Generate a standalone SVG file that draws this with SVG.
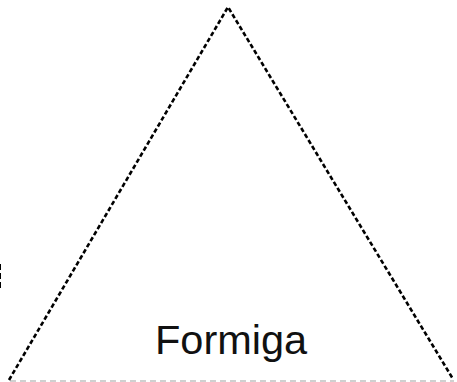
<svg xmlns="http://www.w3.org/2000/svg" width="457" height="382" viewBox="0 0 457 382">
<style>
.edge{fill:none;stroke:#000;stroke-width:2.6;stroke-dasharray:4.5 2.5}
.stub{fill:none;stroke:#000;stroke-width:2;stroke-dasharray:6 3}
.base{fill:none;stroke:#d0d0d0;stroke-width:2;stroke-dasharray:6 4}
.lbl{font-family:"Liberation Sans",Arial,sans-serif;font-size:41.5px;fill:#111}
</style>
<rect width="457" height="382" fill="#fff"/>
<g id="connectors">
<line class="base" x1="10" y1="381" x2="454" y2="381"/>
<line class="stub" x1="0" y1="264" x2="0" y2="291"/>
</g>
<g id="triangle">
<polyline class="edge" points="9,380 228,7 453,379"/>
<text class="lbl" x="155" y="354">Formiga</text>
</g>
</svg>
